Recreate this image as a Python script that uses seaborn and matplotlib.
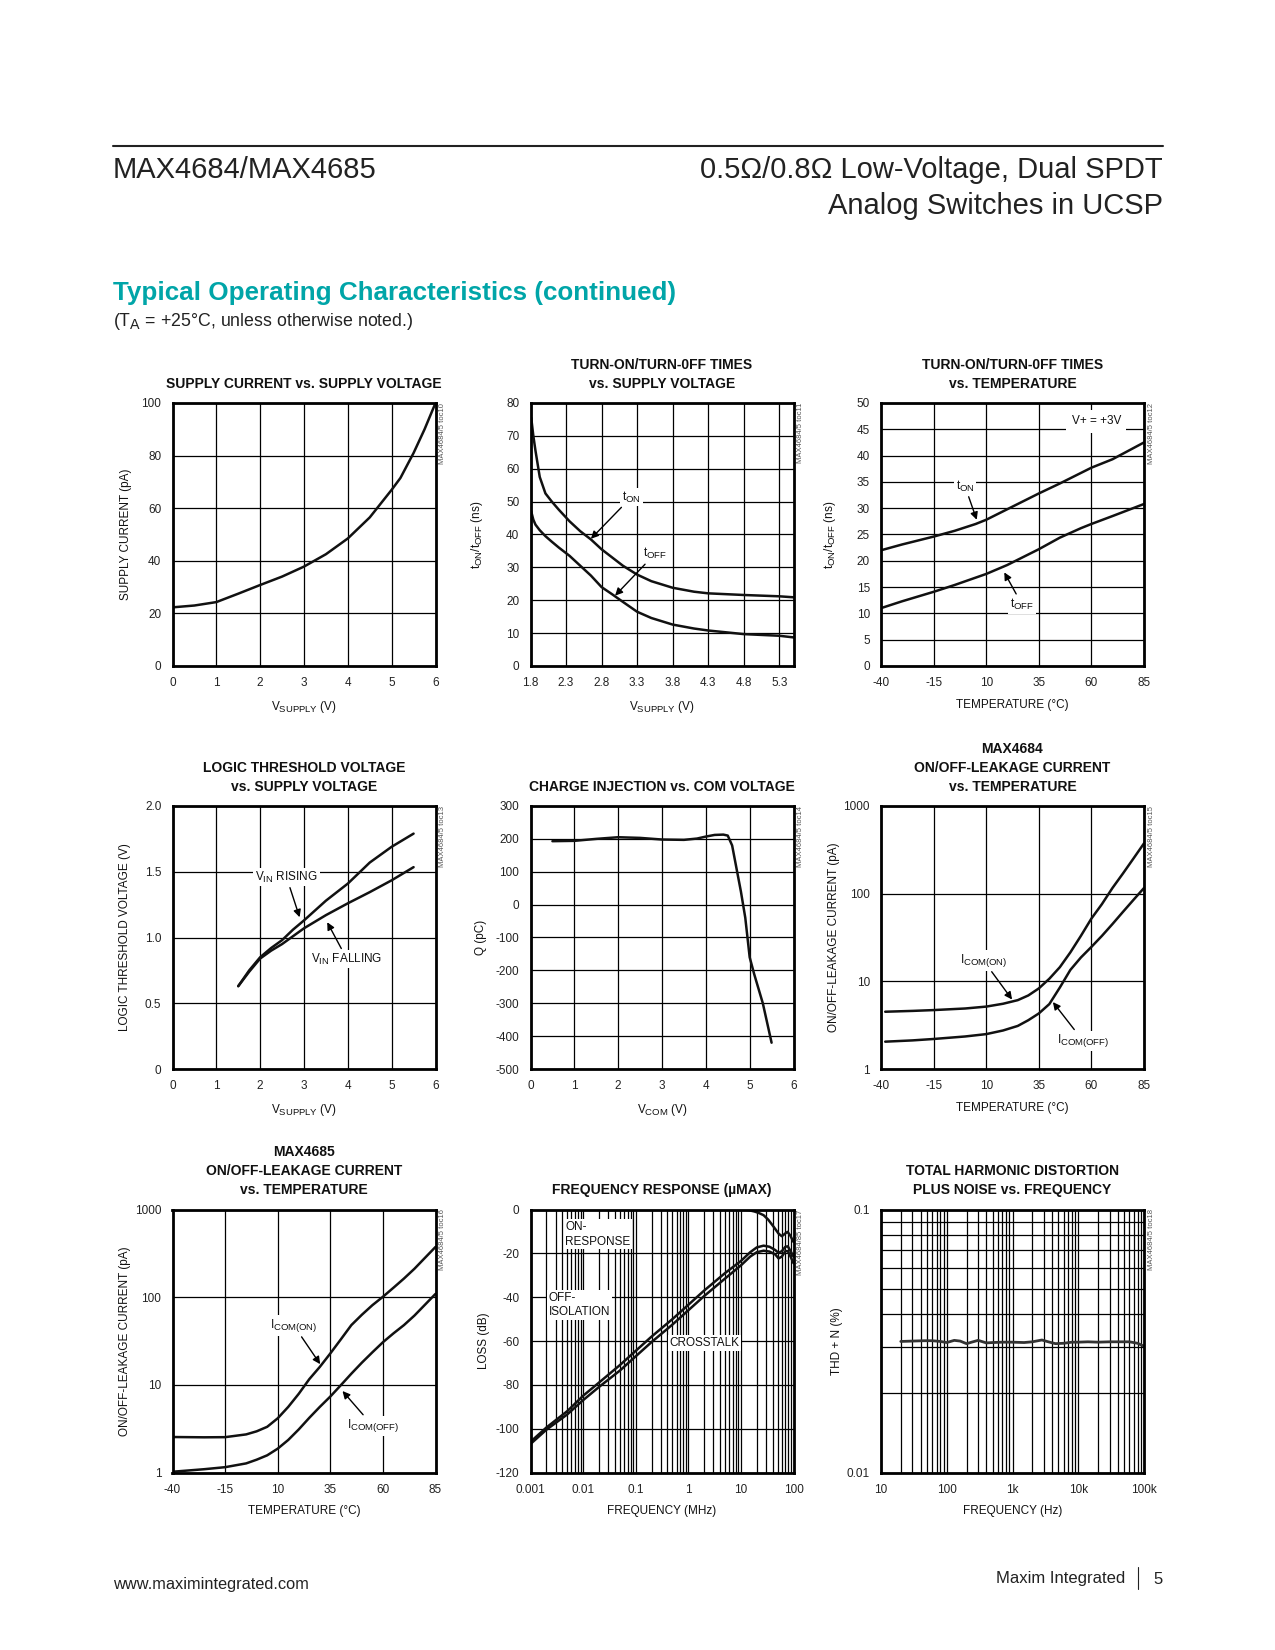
import matplotlib
matplotlib.use('Agg')
import matplotlib.pyplot as plt
import matplotlib._mathtext as mathtext_impl
from matplotlib.lines import Line2D
from matplotlib.ticker import LogLocator, NullFormatter, NullLocator
import numpy as np
import seaborn as sns

# --- supply current vs supply voltage (toc10)
supply_v = [0, 0.5, 1, 1.5, 2, 2.5, 3, 3.5, 4, 4.5, 5, 5.2, 5.5, 5.75, 6]
supply_i = [22.3, 23, 24.3, 27.5, 30.8, 34, 37.8, 42.5, 48.5, 56.5, 67, 71.5, 81, 90, 100]

# --- turn-on/off times vs supply voltage (toc11)
sw_v = [1.81, 1.84, 1.87, 1.93, 2.01, 2.1, 2.2, 2.35, 2.5, 2.65, 2.8, 2.95, 3.1, 3.3, 3.5, 3.8, 4.1, 4.3, 4.8, 5.3, 5.5]
ton_v = [75.5, 70, 65.5, 57.5, 52.5, 50, 47.5, 44, 41, 38.5, 35.5, 33, 30.5, 27.8, 25.8, 23.8, 22.6, 22.1, 21.6, 21.2, 20.9]
toff_v = [47, 44.5, 43, 41.3, 39.5, 37.8, 36, 33.5, 30.5, 27.5, 24, 21.8, 19.5, 16.5, 14.6, 12.6, 11.4, 10.8, 9.7, 9.2, 8.7]

# --- turn-on/off times vs temperature (toc12)
sw_t = [-40, -30, -20, -15, -5, 5, 10, 20, 30, 35, 45, 55, 60, 70, 85]
ton_t = [22, 23.1, 24.1, 24.6, 25.7, 27, 27.8, 29.8, 31.8, 32.8, 34.7, 36.7, 37.7, 39.3, 42.5]
toff_t = [11, 12.3, 13.5, 14.1, 15.4, 16.8, 17.5, 19.2, 21.2, 22.2, 24.4, 26.2, 27, 28.5, 30.8]

# --- logic threshold (toc13)
logic_v = [1.5, 1.75, 2, 2.25, 2.5, 2.75, 3, 3.5, 4, 4.5, 5, 5.5]
vin_rising = [0.63, 0.75, 0.85, 0.92, 0.98, 1.06, 1.13, 1.28, 1.41, 1.57, 1.69, 1.79]
vin_falling = [0.63, 0.74, 0.84, 0.9, 0.95, 1.01, 1.07, 1.17, 1.26, 1.345, 1.435, 1.535]

# --- charge injection (toc14)
vcom = [0.5, 1, 1.5, 2, 2.5, 3, 3.5, 3.8, 4, 4.2, 4.4, 4.5, 4.6, 4.7, 4.8, 4.9, 5.0, 5.1, 5.2, 5.3, 5.4, 5.5]
charge = [193, 194, 200, 205, 203, 198, 197, 201, 207, 212, 213, 210, 180, 110, 40, -40, -160, -210, -255, -300, -360, -420]

# --- MAX4684 leakage (toc15)
temp_84 = [-38, -25, -15, 0, 10, 18, 25, 30, 35, 40, 45, 50, 55, 60, 65, 70, 75, 80, 85]
icom_on_84 = [4.5, 4.6, 4.7, 4.9, 5.15, 5.55, 6.1, 6.9, 8.3, 10.7, 14.5, 21.4, 33, 52, 76, 116, 170, 252, 375]
icom_off_84 = [2.05, 2.12, 2.2, 2.35, 2.5, 2.75, 3.1, 3.6, 4.3, 5.5, 8.5, 13.5, 18.7, 24.7, 33, 45, 62, 85, 116]

# --- MAX4685 leakage (toc16)
temp_85 = [-40, -25, -15, -5, 0, 5, 10, 15, 20, 25, 30, 35, 40, 45, 50, 55, 60, 65, 70, 75, 80, 85]
icom_on_85 = [2.54, 2.52, 2.53, 2.72, 2.95, 3.32, 4.15, 5.6, 7.9, 11.6, 16, 22.8, 33, 48, 63, 81, 101, 128, 163, 211, 281, 374]
icom_off_85 = [1.02, 1.09, 1.15, 1.27, 1.4, 1.57, 1.87, 2.35, 3.1, 4.2, 5.6, 7.35, 9.9, 13.4, 17.9, 23.5, 30.6, 38.6, 48, 61.7, 82, 109]

# --- frequency response (toc17)
on_freq = [0.001, 0.01, 0.1, 1, 10, 14, 18, 22, 27, 33, 42, 52, 60, 69, 77, 86, 100]
on_db = [0, 0, 0, 0, 0, -0.3, -0.9, -1.6, -2.6, -4.6, -7.9, -11, -12.2, -11, -10.2, -11.7, -14.8]
iso_freq = [0.001, 0.002, 0.005, 0.01, 0.02, 0.05, 0.1, 0.2, 0.5, 1, 2, 5, 10, 15, 20, 27, 35, 45, 52, 60, 70, 78, 88, 100]
iso_db = [-106, -99.5, -92, -85, -79, -71, -64.5, -58, -50, -43.5, -37, -29, -23.5, -19.5, -17.3, -16.5, -17, -18.5, -19.8, -19, -17, -16.8, -19, -21.5]
xtalk_db = [-107, -100.5, -93.5, -87, -81, -73.5, -67, -60.5, -52.5, -46, -39.5, -31.5, -25.5, -21.5, -19.5, -18.8, -19.2, -20.5, -22.3, -21.5, -19, -19, -21.5, -24.5]

# --- THD+N (toc18)
thd_freq = [20, 30, 45, 60, 80, 100, 130, 160, 200, 250, 300, 400, 500, 700, 1000, 1500, 2000, 2800, 3500,
            4500, 6000, 8000, 10000, 14000, 20000, 30000, 45000, 60000, 80000, 100000]
thd = [0.0315, 0.0316, 0.0317, 0.0317, 0.0315, 0.0312, 0.0318, 0.0316, 0.0309, 0.0314, 0.0318, 0.0311, 0.0312,
       0.0313, 0.0313, 0.0312, 0.0314, 0.0319, 0.0314, 0.0309, 0.031, 0.0313, 0.0313, 0.0314, 0.0313, 0.0314,
       0.0314, 0.0314, 0.031, 0.0302]

sns.set_theme(style='white')
plt.rcParams['font.family'] = ['Liberation Sans', 'DejaVu Sans']
plt.rcParams['mathtext.fontset'] = 'custom'
plt.rcParams['mathtext.rm'] = 'Liberation Sans'
plt.rcParams['mathtext.it'] = 'Liberation Sans:italic'
plt.rcParams['mathtext.bf'] = 'Liberation Sans:bold'
plt.rcParams['axes.unicode_minus'] = False
plt.rcParams['text.color'] = '#111111'
plt.rcParams['axes.labelcolor'] = '#111111'
mathtext_impl.SHRINK_FACTOR = 0.8   # datasheet subscripts are not that small

W, H = 1275, 1650
fig = plt.figure(figsize=(W / 100, H / 100), dpi=100)

col_left = [172.5, 530.5, 881]
row_top = [403, 806, 1209.5]
side = 263


def make_ax(r, c):
    return fig.add_axes([col_left[c] / W, 1 - (row_top[r] + side) / H, side / W, side / H])


def style(ax, title, wm, xlabel, ylabel, ylab_x=-0.16):
    ax.set_title(title, fontsize=10, fontweight='bold', pad=11, linespacing=1.45)
    for s in ax.spines.values():
        s.set_linewidth(2)
        s.set_color('black')
        s.set_zorder(4)
    ax.set_axisbelow(True)
    ax.grid(True, which='major', color='black', lw=0.9)
    ax.tick_params(which='both', length=0, pad=8, labelsize=8.5, colors='#222222')
    ax.set_xlabel(xlabel, fontsize=8.5)
    ax.set_ylabel(ylabel, fontsize=8.5)
    ax.xaxis.set_label_coords(0.5, -0.125)
    ax.yaxis.set_label_coords(ylab_x, 0.5)
    ax.text(1.027, 1.0, wm, transform=ax.transAxes, rotation=90, ha='center', va='top',
            fontsize=5.5, color='#555555')


def curve(ax, x, y, lw=1.8, color='#111111'):
    sns.lineplot(x=x, y=y, ax=ax, color=color, lw=lw, zorder=3)


def note(ax, text, xytext, xy=None, **kw):
    box = dict(boxstyle='square,pad=0.15', fc='white', ec='none')
    if xy is None:
        ax.text(xytext[0], xytext[1], text, fontsize=8.5, ha=kw.get('ha', 'center'), va='center',
                bbox=box, zorder=5, linespacing=kw.get('linespacing', 1.2))
    else:
        ax.annotate(text, xy=xy, xytext=xytext, fontsize=8.5, ha='center', va='center', bbox=box, zorder=5,
                    arrowprops=dict(arrowstyle='-|>', color='black', lw=1.0, mutation_scale=11,
                                    shrinkA=1, shrinkB=0))


vsup = r'V$_{\mathrm{SUPPLY}}$ (V)'
tlab = r't$_{\mathrm{ON}}$/t$_{\mathrm{OFF}}$ (ns)'
temp_lab = 'TEMPERATURE (°C)'
leak_lab = 'ON/OFF-LEAKAGE CURRENT (pA)'
ion_txt = r'I$_{\mathrm{COM(ON)}}$'
ioff_txt = r'I$_{\mathrm{COM(OFF)}}$'

# 1 supply current
ax = make_ax(0, 0)
curve(ax, supply_v, supply_i)
ax.set_xlim(0, 6)
ax.set_ylim(0, 100)
ax.set_xticks(range(0, 7))
ax.set_yticks(range(0, 101, 20))
style(ax, 'SUPPLY CURRENT vs. SUPPLY VOLTAGE', 'MAX4684/5 toc10', vsup, 'SUPPLY CURRENT (pA)', -0.155)

# 2 ton/toff vs supply
ax = make_ax(0, 1)
curve(ax, sw_v, ton_v)
curve(ax, sw_v, toff_v)
ax.set_xlim(1.8, 5.5)
ax.set_ylim(0, 80)
ax.set_xticks([1.8, 2.3, 2.8, 3.3, 3.8, 4.3, 4.8, 5.3])
ax.set_yticks(range(0, 81, 10))
style(ax, 'TURN-ON/TURN-0FF TIMES\nvs. SUPPLY VOLTAGE', 'MAX4684/5 toc11', vsup, tlab, -0.172)
note(ax, r't$_{\mathrm{ON}}$', (3.22, 51.4), (2.65, 38.7))
note(ax, r't$_{\mathrm{OFF}}$', (3.55, 34.1), (2.99, 21.4))

# 3 ton/toff vs temperature
ax = make_ax(0, 2)
curve(ax, sw_t, ton_t)
curve(ax, sw_t, toff_t)
ax.set_xlim(-40, 85)
ax.set_ylim(0, 50)
ax.set_xticks([-40, -15, 10, 35, 60, 85])
ax.set_yticks(range(0, 51, 5))
style(ax, 'TURN-ON/TURN-0FF TIMES\nvs. TEMPERATURE', 'MAX4684/5 toc12', temp_lab, tlab, -0.165)
note(ax, r't$_{\mathrm{ON}}$', (-0.1, 34.2), (5.5, 27.8))
note(ax, r't$_{\mathrm{OFF}}$', (27, 11.7), (18.6, 17.8))
ax.text(62.4, 46.5, 'V+ = +3V', fontsize=8.5, ha='center', va='center', zorder=5,
        bbox=dict(boxstyle='square,pad=0.45', fc='white', ec='none'))

# 4 logic threshold
ax = make_ax(1, 0)
curve(ax, logic_v, vin_rising)
curve(ax, logic_v, vin_falling)
ax.set_xlim(0, 6)
ax.set_ylim(0, 2)
ax.set_xticks(range(0, 7))
ax.set_yticks([0, 0.5, 1, 1.5, 2], ['0', '0.5', '1.0', '1.5', '2.0'])
style(ax, 'LOGIC THRESHOLD VOLTAGE\nvs. SUPPLY VOLTAGE', 'MAX4684/5 toc13', vsup,
      'LOGIC THRESHOLD VOLTAGE (V)', -0.157)
note(ax, r'V$_{\mathrm{IN}}$ RISING', (2.6, 1.46), (2.9, 1.154))
note(ax, r'V$_{\mathrm{IN}}$ FALLING', (3.98, 0.836), (3.53, 1.116))

# 5 charge injection
ax = make_ax(1, 1)
curve(ax, vcom, charge)
ax.set_xlim(0, 6)
ax.set_ylim(-500, 300)
ax.set_xticks(range(0, 7))
ax.set_yticks(range(-500, 301, 100))
style(ax, 'CHARGE INJECTION vs. COM VOLTAGE', 'MAX4684/5 toc14', r'V$_{\mathrm{COM}}$ (V)', 'Q (pC)', -0.165)

# 6 MAX4684 leakage
ax = make_ax(1, 2)
ax.set_yscale('log')
curve(ax, temp_84, icom_on_84)
curve(ax, temp_84, icom_off_84)
ax.set_xlim(-40, 85)
ax.set_ylim(1, 1000)
ax.set_xticks([-40, -15, 10, 35, 60, 85])
ax.set_yticks([1, 10, 100, 1000], ['1', '10', '100', '1000'])
ax.yaxis.set_minor_locator(NullLocator())
style(ax, 'MAX4684\nON/OFF-LEAKAGE CURRENT\nvs. TEMPERATURE', 'MAX4684/5 toc15', temp_lab, leak_lab, -0.155)
note(ax, ion_txt, (8.7, 17.3), (22.3, 6.2))
note(ax, ioff_txt, (56, 2.1), (41.7, 5.8))

# 7 MAX4685 leakage
ax = make_ax(2, 0)
ax.set_yscale('log')
curve(ax, temp_85, icom_on_85)
curve(ax, temp_85, icom_off_85)
ax.set_xlim(-40, 85)
ax.set_ylim(1, 1000)
ax.set_xticks([-40, -15, 10, 35, 60, 85])
ax.set_yticks([1, 10, 100, 1000], ['1', '10', '100', '1000'])
ax.yaxis.set_minor_locator(NullLocator())
style(ax, 'MAX4685\nON/OFF-LEAKAGE CURRENT\nvs. TEMPERATURE', 'MAX4684/5 toc16', temp_lab, leak_lab, -0.158)
note(ax, ion_txt, (17.7, 47.4), (30.2, 17.2))
note(ax, ioff_txt, (55.2, 3.4), (40.8, 8.5))

# 8 frequency response
ax = make_ax(2, 1)
ax.set_xscale('log')
curve(ax, on_freq, on_db)
curve(ax, iso_freq, iso_db)
curve(ax, iso_freq, xtalk_db)
ax.set_xlim(0.001, 100)
ax.set_ylim(-120, 0)
ax.set_xticks([0.001, 0.01, 0.1, 1, 10, 100], ['0.001', '0.01', '0.1', '1', '10', '100'])
ax.xaxis.set_minor_locator(LogLocator(base=10, subs=np.arange(2, 10)))
ax.xaxis.set_minor_formatter(NullFormatter())
ax.set_yticks(range(-120, 1, 20))
style(ax, 'FREQUENCY RESPONSE (µMAX)', 'MAX4684/85 toc17', 'FREQUENCY (MHz)', 'LOSS (dB)', -0.155)
ax.grid(True, which='minor', axis='x', color='black', lw=0.9)
note(ax, 'ON-\nRESPONSE', (0.0046, -11.3), ha='left', linespacing=1.3)
note(ax, 'OFF-\nISOLATION', (0.00223, -43.6), ha='left', linespacing=1.3)
note(ax, 'CROSSTALK', (0.443, -60.8), ha='left')

# 9 THD+N
ax = make_ax(2, 2)
ax.set_xscale('log')
ax.set_yscale('log')
curve(ax, thd_freq, thd, lw=2.0, color='#333333')
ax.set_xlim(10, 100000)
ax.set_ylim(0.01, 0.1)
ax.set_xticks([10, 100, 1000, 10000, 100000], ['10', '100', '1k', '10k', '100k'])
ax.set_yticks([0.01, 0.1], ['0.01', '0.1'])
ax.xaxis.set_minor_locator(LogLocator(base=10, subs=np.arange(2, 10)))
ax.yaxis.set_minor_locator(LogLocator(base=10, subs=np.arange(2, 10)))
ax.xaxis.set_minor_formatter(NullFormatter())
ax.yaxis.set_minor_formatter(NullFormatter())
style(ax, 'TOTAL HARMONIC DISTORTION\nPLUS NOISE vs. FREQUENCY', 'MAX4684/5 toc18', 'FREQUENCY (Hz)',
      'THD + N (%)', -0.143)
ax.grid(True, which='minor', color='black', lw=0.9)

# page header / footer
fig.add_artist(Line2D([112.6 / W, 1162.5 / W], [1 - 146 / H, 1 - 146 / H], transform=fig.transFigure,
                      color='#222222', lw=1.5))
fig.text(112.6 / W, 1 - 170 / H, 'MAX4684/MAX4685', fontsize=21, ha='left', va='center', color='#222222')
fig.text(1162.5 / W, 1 - 170 / H, '0.5Ω/0.8Ω Low-Voltage, Dual SPDT', fontsize=21, ha='right', va='center',
         color='#222222')
fig.text(1162.5 / W, 1 - 205.5 / H, 'Analog Switches in UCSP', fontsize=21, ha='right', va='center',
         color='#222222')
fig.text(112.6 / W, 1 - 293 / H, 'Typical Operating Characteristics (continued)', fontsize=18.7,
         fontweight='bold', ha='left', va='center', color='#00a5a8')
fig.text(112.6 / W, 1 - 322 / H, r'(T$_{\mathrm{A}}$ = +25°C, unless otherwise noted.)', fontsize=12.8,
         ha='left', va='center', color='#222222')
fig.text(112.6 / W, 1 - 1585 / H, 'www.maximintegrated.com', fontsize=11.8, ha='left', va='center',
         color='#222222')
fig.text(1125.6 / W, 1 - 1579 / H, 'Maxim Integrated', fontsize=12, ha='right', va='center', color='#222222')
fig.text(1162.5 / W, 1 - 1579 / H, '5', fontsize=12, ha='right', va='center', color='#222222')
fig.add_artist(Line2D([1138 / W, 1138 / W], [1 - 1567 / H, 1 - 1589 / H], transform=fig.transFigure,
                      color='#222222', lw=0.8))

fig.savefig('out.png', dpi=100, facecolor='white')
